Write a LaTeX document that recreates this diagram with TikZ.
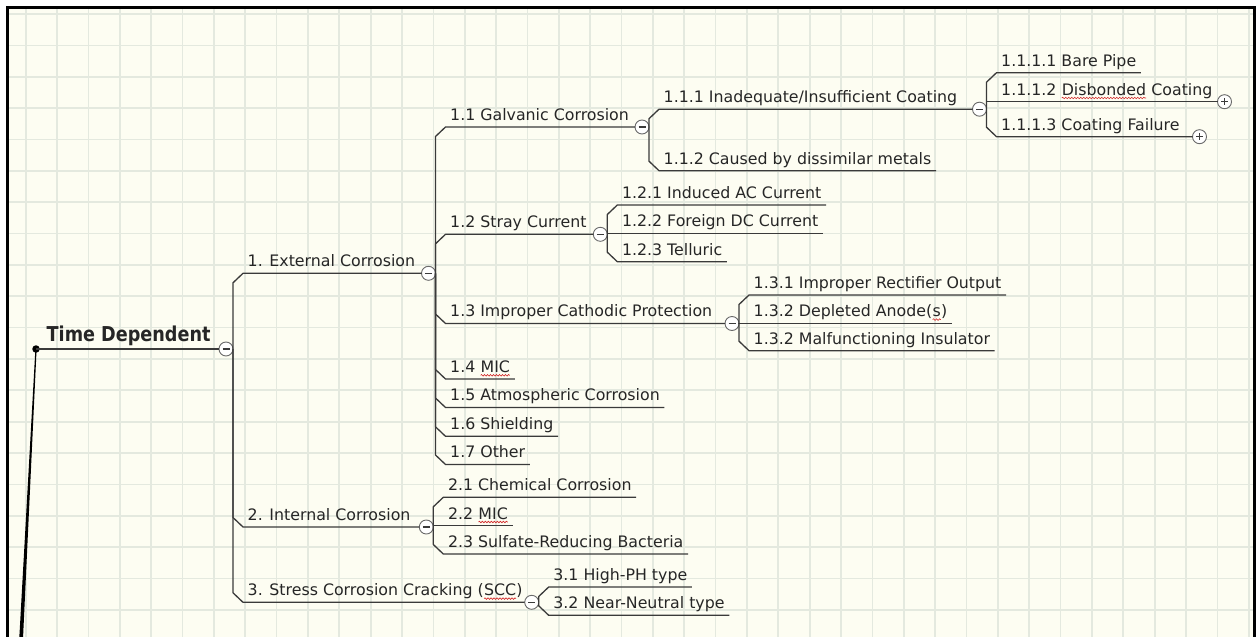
\documentclass[tikz,border=0pt]{standalone}
\usepackage{fontspec}
\setmainfont{DejaVu Sans}
\newfontfamily\rootfont{DejaVu Sans}[FakeStretch=0.86]
\usetikzlibrary{calc,decorations.pathmorphing}
\definecolor{bgc}{HTML}{FDFDF2}
\definecolor{gridc}{HTML}{E4E9DF}
\definecolor{linec}{HTML}{3A3A3A}
\definecolor{txtc}{HTML}{262626}
\definecolor{circc}{HTML}{6A6A6A}
\definecolor{sqc}{HTML}{D42A2A}
\tikzset{
 conn/.style={draw=linec, line width=1.3pt, line join=round},
 lbl/.style={anchor=south west, inner xsep=4.5pt, inner ysep=6.5pt, text depth=0pt, text height=12pt, font=\fontsize{15.8}{18}\selectfont, text=txtc},
 cmin/.style={circle, draw=circc, fill=white, line width=0.9pt, minimum size=14pt, inner sep=0pt, outer sep=0pt,
   path picture={\draw[line width=1.2pt, draw=linec] ([xshift=3.5pt]path picture bounding box.west) -- ([xshift=-3.5pt]path picture bounding box.east);}},
 cplus/.style={circle, draw=circc, fill=white, line width=0.9pt, minimum size=14pt, inner sep=0pt, outer sep=0pt,
   path picture={\draw[line width=1.2pt, draw=linec] ([xshift=3.5pt]path picture bounding box.west) -- ([xshift=-3.5pt]path picture bounding box.east);
   \draw[line width=1.2pt, draw=linec] ([yshift=-3.5pt]path picture bounding box.north) -- ([yshift=3.5pt]path picture bounding box.south);}},
 squig/.style={draw=sqc, line width=0.6pt, decorate, decoration={snake, amplitude=0.8pt, segment length=3pt}},
 rootdot/.style={circle, fill=black, minimum size=7.5pt, inner sep=0pt},
}
\newcommand\wavy[1]{\tikz[baseline=(wv.base),x=1pt,y=1pt]{\node[inner sep=0pt,outer sep=0pt,anchor=base,text depth=0pt] (wv) {#1};\draw[squig] ([yshift=-3pt]wv.base west) -- ([yshift=-3pt]wv.base east);}}
\begin{document}
\begin{tikzpicture}[x=1pt,y=-1pt]
\useasboundingbox (0,0) rectangle (1256,637);
\fill[white] (0,0) rectangle (1256,637);
\fill[bgc] (7.5,7.5) rectangle (1254.5,640);
\foreach \i in {0,...,39} \draw[gridc, line width=1.7pt] ({25.7+\i*31.36},9) -- ({25.7+\i*31.36},640);
\foreach \j in {0,...,19} \draw[gridc, line width=1.7pt] (9,{14+\j*31.36}) -- (1253,{14+\j*31.36});
\draw[black, line width=3pt] (7.5,645) -- (7.5,7.5) -- (1254.5,7.5) -- (1254.5,645);

% root
\node[rootdot] (dot) at (36,349) {};
\coordinate (bot) at (20.8,645);
\node[font=\rootfont\bfseries\fontsize{20.5}{24}\selectfont, text=txtc, anchor=base west, inner sep=0pt] (tR) at (46.5,341) {Time Dependent};
\node[cmin] (c0) at (226,349) {};

% level 1
\node[lbl] (t1) at (243,273.3) {1. External Corrosion};
\node[cmin] (c1) at (428.5,273.3) {};
\node[lbl] (t2) at (243,527) {2. Internal Corrosion};
\node[cmin] (c2) at (426.3,527) {};
\node[lbl] (t3) at (243,602.3) {3. Stress Corrosion Cracking (\wavy{SCC})};
\node[cmin] (c3) at (531.7,602.3) {};

% level 1.x
\node[lbl] (t11) at (445.5,127) {1.1 Galvanic Corrosion};
\node[cmin] (c11) at (642,127) {};
\node[lbl] (t12) at (445.5,234.3) {1.2 Stray Current};
\node[cmin] (c12) at (600.3,234.3) {};
\node[lbl] (t13) at (445.5,323.5) {1.3 Improper Cathodic Protection};
\node[cmin] (c13) at (732,323.5) {};
\node[lbl] (t14) at (445.5,379) {1.4 \wavy{MIC}};
\node[lbl] (t15) at (445.5,407.5) {1.5 Atmospheric Corrosion};
\node[lbl] (t16) at (445.5,436.3) {1.6 Shielding};
\node[lbl] (t17) at (445.5,464.5) {1.7 Other};

% level 1.1.x
\node[lbl] (t111) at (659,109.2) {1.1.1 Inadequate/Insufficient Coating};
\node[cmin] (c111) at (979.5,109.2) {};
\node[lbl] (t112) at (659,170.7) {1.1.2 Caused by dissimilar metals};

% level 1.1.1.x
\node[lbl] (t1111) at (996.5,72.7) {1.1.1.1 Bare Pipe};
\node[lbl] (t1112) at (996.5,101.7) {1.1.1.2 \wavy{Disbonded} Coating};
\node[cplus] (p1112) at (1224.5,101.7) {};
\node[lbl] (t1113) at (996.5,136.7) {1.1.1.3 Coating Failure};
\node[cplus] (p1113) at (1199.5,136.7) {};

% level 1.2.x
\node[lbl] (t121) at (617.3,205) {1.2.1 Induced AC Current};
\node[lbl] (t122) at (617.3,233.5) {1.2.2 Foreign DC Current};
\node[lbl] (t123) at (617.3,261.7) {1.2.3 Telluric};

% level 1.3.x
\node[lbl] (t131) at (749,295) {1.3.1 Improper Rectifier Output};
\node[lbl] (t132) at (749,323.3) {1.3.2 Depleted Anode(\wavy{s})};
\node[lbl] (t133) at (749,350.7) {1.3.2 Malfunctioning Insulator};

% level 2.x
\node[lbl] (t21) at (443.3,497.3) {2.1 Chemical Corrosion};
\node[lbl] (t22) at (443.3,525.7) {2.2 \wavy{MIC}};
\node[lbl] (t23) at (443.3,554) {2.3 Sulfate-Reducing Bacteria};

% level 3.x
\node[lbl] (t31) at (548.7,587) {3.1 High-PH type};
\node[lbl] (t32) at (548.7,615.3) {3.2 Near-Neutral type};

% ---------- connectors ----------
\fill[black] ($(dot.center)+(-0.6,0)$) -- ($(dot.center)+(0.6,0)$) -- ($(bot)+(1.9,0)$) -- ($(bot)+(-1.9,0)$) -- cycle;
\draw[conn] (dot.center) -- (c0.west);

\draw[conn] (c0.east) -- ($(c0.east |- t1.south west)+(0,9.5)$) -- (t1.south west) -- (c1.west);
\draw[conn] (c0.east) -- ($(c0.east |- t2.south west)+(0,-9.5)$) -- (t2.south west) -- (c2.west);
\draw[conn] (c0.east) -- ($(c0.east |- t3.south west)+(0,-9.5)$) -- (t3.south west) -- (c3.west);

\draw[conn] (c1.east) -- ($(c1.east |- t11.south west)+(0,9.5)$) -- (t11.south west) -- (c11.west);
\draw[conn] (c1.east) -- ($(c1.east |- t12.south west)+(0,9.5)$) -- (t12.south west) -- (c12.west);
\draw[conn] (c1.east) -- ($(c1.east |- t13.south west)+(0,-9.5)$) -- (t13.south west) -- (c13.west);
\draw[conn] (c1.east) -- ($(c1.east |- t14.south west)+(0,-9.5)$) -- (t14.south west) -- (t14.south east);
\draw[conn] (c1.east) -- ($(c1.east |- t15.south west)+(0,-9.5)$) -- (t15.south west) -- (t15.south east);
\draw[conn] (c1.east) -- ($(c1.east |- t16.south west)+(0,-9.5)$) -- (t16.south west) -- (t16.south east);
\draw[conn] (c1.east) -- ($(c1.east |- t17.south west)+(0,-9.5)$) -- (t17.south west) -- (t17.south east);

\draw[conn] (c11.east) -- ($(c11.east |- t111.south west)+(0,9.5)$) -- (t111.south west) -- (c111.west);
\draw[conn] (c11.east) -- ($(c11.east |- t112.south west)+(0,-9.5)$) -- (t112.south west) -- (t112.south east);

\draw[conn] (c111.east) -- ($(c111.east |- t1111.south west)+(0,9.5)$) -- (t1111.south west) -- (t1111.south east);
\draw[conn] (c111.east) -- (c111.east |- t1112.south west) -- (p1112.west);
\draw[conn] (c111.east) -- ($(c111.east |- t1113.south west)+(0,-9.5)$) -- (t1113.south west) -- (p1113.west);

\draw[conn] (c12.east) -- ($(c12.east |- t121.south west)+(0,9.5)$) -- (t121.south west) -- (t121.south east);
\draw[conn] (c12.east) -- (c12.east |- t122.south west) -- (t122.south east);
\draw[conn] (c12.east) -- ($(c12.east |- t123.south west)+(0,-9.5)$) -- (t123.south west) -- (t123.south east);

\draw[conn] (c13.east) -- ($(c13.east |- t131.south west)+(0,9.5)$) -- (t131.south west) -- (t131.south east);
\draw[conn] (c13.east) -- (c13.east |- t132.south west) -- (t132.south east);
\draw[conn] (c13.east) -- ($(c13.east |- t133.south west)+(0,-9.5)$) -- (t133.south west) -- (t133.south east);

\draw[conn] (c2.east) -- ($(c2.east |- t21.south west)+(0,9.5)$) -- (t21.south west) -- (t21.south east);
\draw[conn] (c2.east) -- (c2.east |- t22.south west) -- (t22.south east);
\draw[conn] (c2.east) -- ($(c2.east |- t23.south west)+(0,-9.5)$) -- (t23.south west) -- (t23.south east);

\draw[conn] (c3.east) -- ($(c3.east |- t31.south west)+(0,9.5)$) -- (t31.south west) -- (t31.south east);
\draw[conn] (c3.east) -- ($(c3.east |- t32.south west)+(0,-9.5)$) -- (t32.south west) -- (t32.south east);
\end{tikzpicture}
\end{document}
